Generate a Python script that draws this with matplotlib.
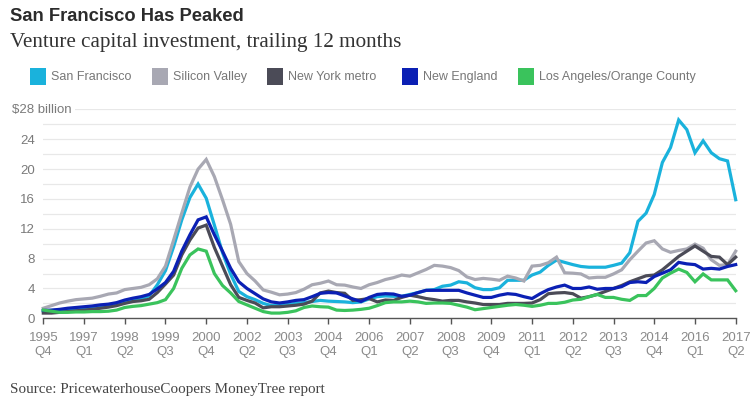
import matplotlib
matplotlib.use('Agg')
import matplotlib.pyplot as plt
from matplotlib.patches import Rectangle
from matplotlib.transforms import blended_transform_factory
import numpy as np

# quarterly data, 1995 Q4 .. 2017 Q2 (86 points), $ billion
san_francisco = [1.0, 1.05, 1.1, 1.2, 1.3, 1.4, 1.5, 1.6, 1.7, 1.9,
                 2.2, 2.4, 2.6, 3.0, 4.5, 6.4, 9.6, 13.2, 16.2, 18.0,
                 16.1, 12.5, 8.8, 5.9, 3.6, 2.9, 2.5, 2.0, 1.7, 1.7,
                 1.85, 2.0, 2.1, 2.25, 2.4, 2.3, 2.25, 2.2, 2.1, 2.2,
                 2.6, 2.9, 3.0, 2.95, 2.95, 3.2, 3.45, 3.75, 3.85, 4.3,
                 4.45, 4.9, 4.75, 4.1, 3.85, 3.85, 4.1, 5.1, 5.1, 5.1,
                 5.8, 6.2, 7.1, 7.8, 7.5, 7.2, 6.95, 6.85, 6.85, 6.85,
                 7.1, 7.4, 8.8, 13.0, 14.1, 16.6, 20.9, 22.9, 26.6, 25.3,
                 22.2, 23.8, 22.2, 21.4, 21.1, 15.9]
silicon_valley = [1.35, 1.7, 2.05, 2.3, 2.5, 2.6, 2.7, 2.95, 3.25, 3.4,
                  3.85, 4.0, 4.15, 4.5, 5.3, 7.0, 10.5, 14.1, 17.6, 20.0,
                  21.3, 19.0, 15.9, 12.6, 7.6, 6.0, 5.0, 3.8, 3.5, 3.15,
                  3.25, 3.45, 3.9, 4.5, 4.7, 5.0, 4.5, 4.45, 4.2, 4.0,
                  4.5, 4.8, 5.2, 5.45, 5.8, 5.65, 6.1, 6.55, 7.1, 7.0,
                  6.8, 6.4, 5.55, 5.2, 5.35, 5.25, 5.1, 5.65, 5.4, 5.0,
                  7.0, 7.1, 7.45, 8.2, 6.1, 6.05, 5.95, 5.4, 5.5, 5.5,
                  5.95, 6.5, 7.85, 9.0, 10.1, 10.4, 9.3, 8.85, 9.1, 9.3,
                  9.95, 9.4, 7.85, 7.1, 7.2, 9.0]
new_york = [0.7, 0.7, 0.8, 0.9, 1.0, 1.1, 1.2, 1.35, 1.5, 1.7,
            2.0, 2.25, 2.35, 2.55, 3.45, 4.6, 5.8, 8.5, 10.5, 12.1,
            12.5, 9.5, 7.0, 4.5, 2.8, 2.4, 2.05, 1.4, 1.55, 1.55,
            1.65, 1.75, 1.9, 2.3, 3.4, 3.65, 3.45, 3.35, 2.4, 2.5,
            2.65, 2.2, 2.45, 2.4, 2.8, 3.1, 2.9, 2.65, 2.5, 2.3,
            2.4, 2.4, 2.2, 2.05, 1.85, 1.85, 1.85, 2.0, 2.0, 2.0,
            2.05, 2.5, 3.3, 3.4, 3.45, 3.3, 2.7, 2.9, 3.2, 3.6,
            4.0, 4.4, 4.9, 5.3, 5.7, 5.8, 6.5, 7.4, 8.3, 9.0,
            9.7, 9.0, 8.3, 8.2, 7.2, 8.2]
new_england = [1.05, 1.1, 1.2, 1.35, 1.45, 1.55, 1.65, 1.8, 1.9, 2.1,
               2.45, 2.7, 2.9, 3.2, 3.95, 4.8, 6.3, 9.0, 11.2, 13.2,
               13.6, 11.2, 9.0, 6.7, 4.9, 4.0, 3.3, 2.6, 2.2, 2.05,
               2.2, 2.4, 2.5, 2.9, 3.35, 3.45, 3.4, 3.0, 2.6, 2.25,
               2.8, 3.2, 3.3, 3.25, 2.95, 3.1, 3.45, 3.75, 3.75, 3.75,
               3.75, 3.75, 3.4, 3.1, 2.8, 2.8, 3.1, 3.3, 3.2, 2.9,
               2.65, 3.3, 3.85, 4.2, 4.45, 4.0, 4.0, 4.2, 3.9, 4.0,
               4.0, 4.25, 4.8, 4.9, 4.8, 5.6, 6.05, 6.5, 7.5, 7.3,
               7.2, 6.6, 6.7, 6.6, 6.95, 7.2]
los_angeles = [1.1, 0.95, 0.8, 0.8, 0.85, 0.85, 0.9, 0.9, 0.95, 1.1,
               1.45, 1.6, 1.7, 1.9, 2.1, 2.5, 4.0, 6.7, 8.5, 9.3,
               9.0, 6.0, 4.4, 3.4, 2.25, 1.8, 1.35, 0.9, 0.7, 0.7,
               0.8, 1.0, 1.45, 1.65, 1.55, 1.5, 1.1, 1.05, 1.1, 1.2,
               1.35, 1.7, 2.1, 2.2, 2.2, 2.3, 2.2, 2.0, 2.05, 2.05,
               2.0, 1.75, 1.5, 1.15, 1.3, 1.45, 1.6, 1.75, 1.85, 1.75,
               1.6, 1.75, 2.0, 2.0, 2.15, 2.45, 2.55, 2.9, 3.2, 2.8,
               2.8, 2.55, 2.4, 3.05, 3.05, 4.0, 5.4, 6.05, 6.6, 6.15,
               4.9, 5.95, 5.15, 5.15, 5.15, 3.7]

tick_labels = ['1995\nQ4', '1997\nQ1', '1998\nQ2', '1999\nQ3', '2000\nQ4', '2002\nQ2',
               '2003\nQ3', '2004\nQ4', '2006\nQ1', '2007\nQ2', '2008\nQ3', '2009\nQ4',
               '2011\nQ1', '2012\nQ2', '2013\nQ3', '2014\nQ4', '2016\nQ1', '2017\nQ2']

series = [
    ('San Francisco', san_francisco, '#1ab2dc'),
    ('Silicon Valley', silicon_valley, '#a8a8b3'),
    ('New York metro', new_york, '#4b4b57'),
    ('New England', new_england, '#0b20b4'),
    ('Los Angeles/Orange County', los_angeles, '#3ac35c'),
]

W, H = 756, 411
fig = plt.figure(figsize=(W / 100, H / 100), dpi=100)
ax = fig.add_axes([43.3 / W, 1 - 318.3 / H, (735.7 - 43.3) / W, (318.3 - 109.5) / H])

x = np.arange(len(san_francisco))
for name, vals, col in series:
    ax.plot(x, vals, color=col, lw=2.3, solid_joinstyle='miter', clip_on=False, zorder=3)

ax.set_xlim(0, len(san_francisco) - 1)
ax.set_ylim(0, 28)

# grid
ax.set_yticks(np.arange(0, 25, 4))
ax.set_yticklabels([str(v) for v in range(0, 25, 4)])
for v in range(2, 29, 2):
    ax.axhline(v, color='#e8e8e8', lw=0.9, zorder=1)
for s in ['top', 'right', 'left']:
    ax.spines[s].set_visible(False)
ax.spines['bottom'].set_color('#555555')
ax.spines['bottom'].set_linewidth(1.0)
ax.tick_params(axis='y', length=0, pad=6, labelsize=9.5, labelcolor='#7a7a7a')
ax.set_xticks(np.arange(0, len(san_francisco), 5))
ax.set_xticklabels(tick_labels, linespacing=1.25)
ax.tick_params(axis='x', length=4, width=1, color='#555555', pad=6,
               labelsize=9.5, labelcolor='#8a8a8a')
for lab in ax.get_xticklabels() + ax.get_yticklabels():
    lab.set_family('Liberation Sans')

tr = blended_transform_factory(fig.transFigure, ax.transData)
ax.text(12 / W, 28, '$28 billion', transform=tr, ha='left', va='center',
        fontsize=9.5, color='#7a7a7a', family='Liberation Sans',
        bbox=dict(facecolor='white', edgecolor='none', pad=2.5), zorder=5)

# titles
fig.text(10 / W, 1 - 20.7 / H, 'San Francisco Has Peaked', fontsize=13.2,
         fontweight='bold', family='Liberation Sans', color='#2b2b2b', va='baseline')
fig.text(10 / W, 1 - 46.7 / H, 'Venture capital investment, trailing 12 months',
         fontsize=15.2, family='Liberation Serif', color='#333333', va='baseline')

# legend
sq_x = [30, 151.7, 267.3, 401.7, 518.3]
for (name, vals, col), sx in zip(series, sq_x):
    fig.patches.append(Rectangle((sx / W, 1 - 85 / H), 16 / W, 16.5 / H,
                                 transform=fig.transFigure, color=col, lw=0))
    fig.text((sx + 21) / W, 1 - 77 / H, name, fontsize=9.0, color='#777777',
             family='Liberation Sans', va='center')

fig.text(10 / W, 1 - 393 / H, 'Source: PricewaterhouseCoopers MoneyTree report',
         fontsize=10.9, family='Liberation Serif', color='#444444', va='baseline')

fig.savefig('out.png', dpi=100)
